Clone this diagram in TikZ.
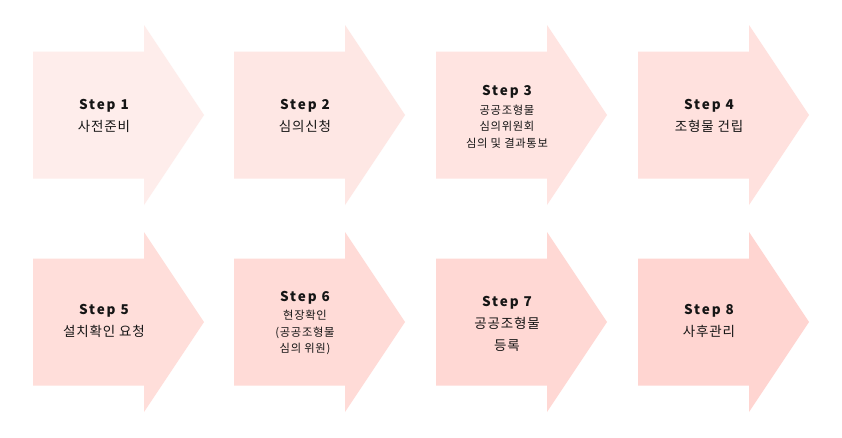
\documentclass[tikz,border=0pt]{standalone}
\usepackage{fontspec}
\setmainfont[LetterSpace=6]{Noto Sans CJK KR}
\newfontfamily\stepfont[LetterSpace=14]{Noto Sans CJK KR}
\definecolor{c1}{HTML}{FEEDEB}
\definecolor{c2}{HTML}{FEE7E4}
\definecolor{c3}{HTML}{FFE4E1}
\definecolor{c4}{HTML}{FFE1DE}
\definecolor{c5}{HTML}{FFDEDA}
\definecolor{c6}{HTML}{FFDBD7}
\definecolor{c7}{HTML}{FFD8D4}
\definecolor{c8}{HTML}{FFD5D1}
\definecolor{txt}{HTML}{151515}
\tikzset{
  steptext/.style={align=center,text=txt,inner sep=0pt,font=\fontsize{13.5}{22}\selectfont},
  smalltext/.style={align=center,text=txt,inner sep=0pt,font=\fontsize{11.3}{16.5}\selectfont},
}
\newcommand{\stp}[1]{{\stepfont\bfseries\fontsize{13.5}{16}\selectfont Step #1}}
\newcommand{\bigarrow}[3]{%
  \fill[#3] (#1,#2-63.5) -- (#1+111,#2-63.5) -- (#1+111,#2-90) -- (#1+171,#2)
    -- (#1+111,#2+90) -- (#1+111,#2+63.5) -- (#1,#2+63.5) -- cycle;}
\begin{document}
\begin{tikzpicture}[x=1pt,y=-1pt]
\useasboundingbox (0,0) rectangle (842,437);
\fill[white] (0,0) rectangle (842,437);
\bigarrow{33}{115}{c1}
\bigarrow{234}{115}{c2}
\bigarrow{436}{115}{c3}
\bigarrow{638}{115}{c4}
\bigarrow{33}{322}{c5}
\bigarrow{234}{322}{c6}
\bigarrow{436}{322}{c7}
\bigarrow{638}{322}{c8}
\node[steptext] (s1) at (104,116) {\stp{1}\\사전준비};
\node[steptext] (s2) at (305,116) {\stp{2}\\심의신청};
\node[smalltext] (s3) at (507,117) {\stp{3}\\[2pt]공공조형물\\심의위원회\\심의 및 결과통보};
\node[steptext] (s4) at (709,116) {\stp{4}\\조형물 건립};
\node[steptext] (s5) at (104,321) {\stp{5}\\설치확인 요청};
\node[smalltext] (s6) at (305,323) {\stp{6}\\[2pt]현장확인\\(공공조형물\\심의 위원)};
\node[steptext] (s7) at (507,324) {\stp{7}\\공공조형물\\등록};
\node[steptext] (s8) at (709,321) {\stp{8}\\사후관리};
\end{tikzpicture}
\end{document}
